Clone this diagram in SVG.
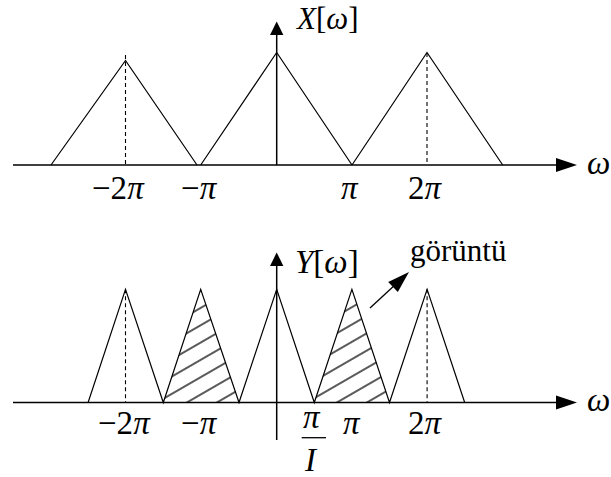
<svg xmlns="http://www.w3.org/2000/svg" width="611" height="477" viewBox="0 0 611 477">
<style>
.ax{stroke:#000;stroke-width:1.5;fill:none}
.tr{stroke:#000;stroke-width:1.2;fill:none;stroke-linejoin:miter}
.ds{stroke:#000;stroke-width:1.1;stroke-dasharray:4,3;fill:none}
.ah{fill:#000;stroke:none}
text{font-family:"Liberation Serif","Times New Roman",serif;font-size:33px;fill:#000}
.it{font-style:italic}
</style>
<defs>
<pattern id="hatch" patternUnits="userSpaceOnUse" width="20" height="15" patternTransform="rotate(-30)">
<line x1="-2" y1="7" x2="22" y2="7" stroke="#000" stroke-width="1.3"/>
</pattern>
</defs>
<g id="top-axes">
<line class="ax" x1="13" y1="165" x2="560" y2="165"/>
<polygon class="ah" points="577,165 556,158 556,172"/>
<line class="ax" x1="276.7" y1="165" x2="276.7" y2="32"/>
<polygon class="ah" points="276.7,21.5 270,35 283.4,35"/>
</g>
<g id="top-triangles">
<polyline class="tr" points="51,165 125.5,60.5 197,165"/>
<polyline class="tr" points="200.7,165 276.7,52.5 352,165"/>
<polyline class="tr" points="352,165 427,52.5 502.7,165"/>
<line class="ds" x1="125.5" y1="55" x2="125.5" y2="165"/>
<line class="ds" x1="427" y1="53" x2="427" y2="165"/>
</g>
<g id="top-labels">
<text x="297" y="29" style="font-size:31px"><tspan class="it">X</tspan>[<tspan class="it">ω</tspan>]</text>
<text class="it" x="587" y="174">ω</text>
<text x="92" y="199">−2<tspan class="it">π</tspan></text>
<text x="181" y="199">−<tspan class="it">π</tspan></text>
<text class="it" x="341" y="199">π</text>
<text x="408" y="199">2<tspan class="it">π</tspan></text>
</g>
<g id="bottom-axes">
<line class="ax" x1="13" y1="402.5" x2="560" y2="402.5"/>
<polygon class="ah" points="577,402.5 556,395.5 556,409.5"/>
<line class="ax" x1="276.7" y1="440" x2="276.7" y2="265"/>
<polygon class="ah" points="276.7,252.5 270,266 283.4,266"/>
</g>
<g id="bottom-triangles">
<polygon points="163.3,402.5 200.7,289.3 239,402.5" fill="url(#hatch)"/>
<polygon points="314.3,402.5 351.9,289.3 389.5,402.5" fill="url(#hatch)"/>
<polyline class="tr" points="88.1,402.5 125.5,289.3 163.3,402.5 200.7,289.3 239,402.5 276.7,289.3 314.3,402.5 351.9,289.3 389.5,402.5 427.1,289.3 464.7,402.5"/>
<line class="ds" x1="125.5" y1="289.3" x2="125.5" y2="402.5"/>
<line class="ds" x1="427.1" y1="289.3" x2="427.1" y2="402.5"/>
</g>
<g id="image-callout">
<line class="ax" x1="370" y1="308" x2="396" y2="284" style="stroke-width:1.3"/>
<polygon class="ah" points="409,272 397.8,292.1 388.2,281.9"/>
<text x="410" y="261" style="font-size:31px">görüntü</text>
</g>
<g id="bottom-labels">
<text x="295" y="273"><tspan class="it">Y</tspan>[<tspan class="it">ω</tspan>]</text>
<text class="it" x="587" y="411">ω</text>
<text x="98" y="434">−2<tspan class="it">π</tspan></text>
<text x="181" y="434">−<tspan class="it">π</tspan></text>
<text class="it" x="303" y="428">π</text>
<line class="ax" x1="301.7" y1="437.7" x2="326" y2="437.7" style="stroke-width:1.3"/>
<text class="it" x="305" y="471">I</text>
<text class="it" x="343" y="434">π</text>
<text x="408" y="434">2<tspan class="it">π</tspan></text>
</g>
</svg>
